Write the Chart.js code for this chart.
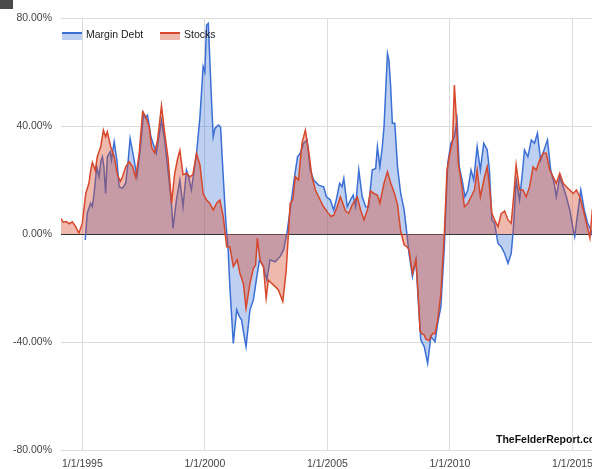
<!DOCTYPE html>
<html>
<head>
<meta charset="utf-8">
<script src="https://cdn.jsdelivr.net/npm/chart.js@4/dist/chart.umd.min.js"></script>
<style>
  html, body { margin: 0; padding: 0; background: #fff; overflow: hidden; }
  #wrap { position: absolute; left: 0; top: 0; width: 602px; height: 480px; }
  #corner { position: absolute; left: 0; top: 0; width: 13px; height: 9px; background: #4a4a4a; }
</style>
</head>
<body>
<div id="wrap"><canvas id="chart" width="602" height="480"></canvas></div>
<div id="corner"></div>
<script>
// year-over-year change (x = decimal year, y = percent)
const stocksDates = [1994.12, 1994.22, 1994.34, 1994.47, 1994.59, 1994.71, 1994.86, 1995.00, 1995.14, 1995.27,
  1995.35, 1995.41, 1995.53, 1995.61, 1995.75, 1995.86, 1995.95, 1996.02, 1996.16, 1996.30,
  1996.43, 1996.55, 1996.64, 1996.77, 1996.91, 1997.05, 1997.18, 1997.32, 1997.46, 1997.59,
  1997.73, 1997.83, 1997.95, 1998.07, 1998.23, 1998.36, 1998.50, 1998.64, 1998.77, 1998.89,
  1998.98, 1999.11, 1999.25, 1999.39, 1999.51, 1999.66, 1999.80, 1999.93, 2000.07, 2000.20,
  2000.34, 2000.48, 2000.61, 2000.75, 2000.89, 2001.02, 2001.16, 2001.32, 2001.43, 2001.57,
  2001.68, 2001.84, 2001.98, 2002.07, 2002.14, 2002.25, 2002.39, 2002.50, 2002.59, 2002.73,
  2002.87, 2003.00, 2003.18, 2003.32, 2003.41, 2003.48, 2003.59, 2003.69, 2003.82, 2003.96,
  2004.10, 2004.23, 2004.37, 2004.51, 2004.71, 2004.85, 2005.01, 2005.15, 2005.26, 2005.40,
  2005.53, 2005.74, 2005.87, 2006.02, 2006.22, 2006.35, 2006.49, 2006.63, 2006.76, 2006.90,
  2007.04, 2007.14, 2007.31, 2007.45, 2007.58, 2007.72, 2007.86, 2007.99, 2008.13, 2008.27,
  2008.33, 2008.47, 2008.61, 2008.70, 2008.78, 2008.87, 2008.95, 2009.02, 2009.15, 2009.29,
  2009.39, 2009.50, 2009.63, 2009.77, 2009.88, 2009.97, 2010.11, 2010.18, 2010.25, 2010.34,
  2010.45, 2010.59, 2010.73, 2010.86, 2011.00, 2011.11, 2011.24, 2011.41, 2011.52, 2011.61,
  2011.71, 2011.82, 2011.96, 2012.09, 2012.23, 2012.37, 2012.50, 2012.61, 2012.70, 2012.84,
  2012.98, 2013.11, 2013.25, 2013.39, 2013.52, 2013.66, 2013.80, 2013.93, 2014.07, 2014.21,
  2014.34, 2014.48, 2014.62, 2014.75, 2014.89, 2015.03, 2015.16, 2015.30, 2015.44, 2015.57,
  2015.71, 2015.81, 2015.90];
const stocksValues = [5.8, 4.4, 4.6, 3.8, 4.5, 3.0, 0.3, 4.0, 15.0, 18.8,
  24.0, 26.5, 23.5, 28.6, 32.3, 38.5, 36.0, 37.9, 32.3, 28.6,
  22.0, 19.5, 21.2, 24.9, 26.8, 25.0, 21.0, 29.9, 45.3, 43.5,
  39.7, 32.0, 30.0, 34.8, 47.5, 37.4, 28.0, 11.5, 22.5, 28.0,
  31.0, 22.0, 22.5, 21.2, 22.0, 29.9, 25.5, 15.0, 12.6, 11.4,
  8.9, 11.4, 12.6, 6.4, -4.7, -4.7, -12.1, -9.6, -14.6, -18.3,
  -27.5, -18.3, -12.7, -11.5, -1.6, -9.6, -12.1, -23.8, -17.0, -18.3,
  -19.5, -20.7, -25.0, -13.3, 0.3, 11.4, 12.6, 21.2, 20.0, 33.6,
  38.5, 31.1, 21.2, 16.3, 12.5, 10.0, 8.0, 6.5, 7.0, 10.1,
  13.8, 8.5, 7.7, 11.0, 13.8, 9.0, 5.2, 8.9, 16.0, 15.0,
  14.4, 11.4, 18.8, 23.1, 19.0, 15.5, 11.0, 1.0, -4.0, -5.0,
  -6.0, -14.6, -9.6, -22.0, -36.0, -37.0, -37.4, -39.0, -39.5, -36.8,
  -37.0, -31.9, -22.0, 0.0, 23.7, 28.6, 34.8, 55.2, 44.7, 26.2,
  20.0, 10.1, 11.4, 13.8, 16.3, 23.7, 13.8, 21.2, 24.9, 18.0,
  7.7, 5.2, 2.7, 7.5, 8.5, 5.2, 4.0, 15.0, 25.6, 16.3,
  16.3, 13.8, 17.5, 24.9, 23.7, 27.4, 29.9, 29.9, 23.7, 21.2,
  18.8, 22.5, 18.8, 17.5, 16.3, 15.0, 16.3, 13.8, 8.9, 4.0,
  -1.5, 8.9, 9.0];

const marginDates = [1995.12, 1995.20, 1995.34, 1995.41, 1995.48, 1995.59, 1995.68, 1995.76, 1995.82, 1995.88,
  1995.95, 1996.02, 1996.14, 1996.19, 1996.30, 1996.41, 1996.50, 1996.64, 1996.77, 1996.86,
  1996.95, 1997.09, 1997.23, 1997.36, 1997.50, 1997.58, 1997.66, 1997.80, 1997.88, 1998.02,
  1998.23, 1998.36, 1998.50, 1998.63, 1998.70, 1998.84, 1998.98, 1999.11, 1999.25, 1999.34,
  1999.45, 1999.66, 1999.80, 1999.93, 2000.00, 2000.07, 2000.14, 2000.27, 2000.34, 2000.41,
  2000.55, 2000.64, 2000.75, 2000.86, 2000.95, 2001.02, 2001.16, 2001.30, 2001.41, 2001.50,
  2001.57, 2001.68, 2001.84, 2001.98, 2002.12, 2002.23, 2002.39, 2002.53, 2002.66, 2002.87,
  2003.07, 2003.21, 2003.35, 2003.48, 2003.62, 2003.78, 2003.89, 2004.03, 2004.17, 2004.30,
  2004.44, 2004.64, 2004.85, 2004.96, 2005.12, 2005.26, 2005.37, 2005.50, 2005.60, 2005.67,
  2005.81, 2005.94, 2006.05, 2006.15, 2006.28, 2006.42, 2006.56, 2006.68, 2006.83, 2006.97,
  2007.04, 2007.14, 2007.24, 2007.31, 2007.38, 2007.45, 2007.51, 2007.58, 2007.65, 2007.75,
  2007.86, 2007.99, 2008.13, 2008.24, 2008.33, 2008.47, 2008.61, 2008.71, 2008.81, 2008.95,
  2009.09, 2009.22, 2009.39, 2009.50, 2009.63, 2009.77, 2009.91, 2010.04, 2010.18, 2010.29,
  2010.38, 2010.52, 2010.61, 2010.73, 2010.86, 2010.97, 2011.11, 2011.24, 2011.38, 2011.52,
  2011.61, 2011.71, 2011.82, 2011.96, 2012.09, 2012.23, 2012.37, 2012.50, 2012.57, 2012.61,
  2012.70, 2012.84, 2012.98, 2013.04, 2013.18, 2013.32, 2013.45, 2013.57, 2013.70, 2013.84,
  2013.98, 2014.11, 2014.25, 2014.34, 2014.48, 2014.62, 2014.75, 2014.89, 2015.03, 2015.09,
  2015.23, 2015.34, 2015.48, 2015.62, 2015.75, 2015.86];
const marginValues = [-2.2, 7.7, 11.4, 10.1, 15.0, 24.9, 21.2, 27.0, 28.6, 25.0,
  15.0, 28.6, 30.5, 27.4, 34.2, 27.4, 17.5, 16.9, 18.8, 26.0,
  35.4, 28.6, 21.2, 31.1, 44.7, 43.0, 44.0, 36.0, 33.7, 29.9,
  42.2, 34.8, 23.1, 12.0, 2.1, 12.6, 20.0, 10.1, 23.7, 21.0,
  16.3, 29.9, 43.4, 62.0, 60.0, 77.4, 78.0, 49.6, 36.0, 39.1,
  40.4, 39.7, 21.2, 4.0, -5.9, -19.5, -40.5, -28.1, -30.6, -31.9,
  -36.0, -41.7, -28.1, -24.4, -15.8, -9.6, -12.1, -17.0, -9.6, -10.3,
  -8.4, -5.9, 0.3, 8.9, 18.8, 28.6, 29.9, 33.6, 34.8, 23.7,
  20.0, 18.1, 17.5, 13.8, 12.6, 8.9, 13.0, 18.8, 17.5, 20.6,
  10.1, 12.6, 14.4, 10.1, 23.7, 13.8, 10.1, 10.0, 23.7, 24.3,
  32.3, 24.9, 32.3, 39.7, 53.3, 66.9, 64.4, 54.6, 41.0, 41.0,
  24.9, 15.0, 8.9, 0.3, -7.2, -15.8, -9.6, -25.0, -39.3, -41.7,
  -47.9, -38.0, -39.9, -33.1, -26.9, -5.0, 26.2, 33.6, 36.0, 42.2,
  24.9, 18.8, 13.8, 16.3, 23.7, 20.0, 32.3, 23.7, 33.6, 31.1,
  23.7, 5.2, 4.0, -3.5, -4.7, -7.2, -10.9, -7.2, 0.0, 5.2,
  20.0, 12.6, 24.9, 31.1, 28.6, 34.8, 33.6, 37.3, 27.4, 31.1,
  34.8, 23.7, 18.8, 13.8, 21.2, 17.5, 13.8, 8.9, 1.5, -1.0,
  8.9, 16.3, 8.9, 4.0, 1.5, -2.0];

const yearTicks = [1995, 2000, 2005, 2010, 2015];
const valueTicks = [-80, -40, 0, 40, 80];

const BLUE = '#3b6fd4';
const RED = '#d6472b';

const toPoints = (xs, ys) => xs.map((x, i) => ({ x: x, y: ys[i] }));

// legend inside the plot and the watermark, drawn by hand
const overlayPlugin = {
    id: 'overlay',
    afterDraw(chart) {
        const ctx = chart.ctx;
        ctx.save();
        ctx.font = '10.5px Arial, "Liberation Sans", sans-serif';
        ctx.textBaseline = 'middle';
        let x = 62;
        chart.data.datasets.forEach(ds => {
            ctx.fillStyle = ds.backgroundColor;
            ctx.fillRect(x, 33, 20, 7);
            ctx.strokeStyle = ds.borderColor;
            ctx.lineWidth = 2;
            ctx.beginPath();
            ctx.moveTo(x, 33);
            ctx.lineTo(x + 20, 33);
            ctx.stroke();
            ctx.fillStyle = '#222';
            ctx.fillText(ds.label, x + 24, 35);
            x += 98;
        });
        ctx.font = 'bold 10.5px Arial, "Liberation Sans", sans-serif';
        ctx.textBaseline = 'alphabetic';
        ctx.fillStyle = '#111';
        ctx.fillText('TheFelderReport.com', 496, 443);
        ctx.restore();
    }
};

new Chart(document.getElementById('chart'), {
    type: 'line',
    data: {
        datasets: [{
            label: 'Margin Debt',
            data: toPoints(marginDates, marginValues),
            borderColor: BLUE,
            backgroundColor: 'rgba(59,111,212,0.33)',
            borderWidth: 1.5,
            fill: 'origin',
            pointRadius: 0,
            tension: 0,
            order: 1
        }, {
            label: 'Stocks',
            data: toPoints(stocksDates, stocksValues),
            borderColor: RED,
            backgroundColor: 'rgba(214,71,43,0.38)',
            borderWidth: 1.5,
            fill: 'origin',
            pointRadius: 0,
            tension: 0,
            order: 0
        }]
    },
    options: {
        responsive: false,
        animation: false,
        devicePixelRatio: 1,
        layout: { padding: { top: 18, right: 5, bottom: 0, left: 0 } },
        plugins: {
            legend: { display: false },
            tooltip: { enabled: false }
        },
        scales: {
            x: {
                type: 'linear',
                min: 1994.13,
                max: 2016,
                afterBuildTicks: s => { s.ticks = yearTicks.map(v => ({ value: v })); },
                afterFit: s => { s.height = 30; },
                grid: { color: '#dcdcdc', drawTicks: false },
                border: { display: false },
                ticks: {
                    callback: v => '1/1/' + v,
                    color: '#444',
                    font: { family: 'Arial, "Liberation Sans", sans-serif', size: 10.5 },
                    padding: 8,
                    maxRotation: 0,
                    autoSkip: false
                }
            },
            y: {
                min: -80,
                max: 80,
                afterBuildTicks: s => { s.ticks = valueTicks.map(v => ({ value: v })); },
                afterFit: s => { s.width = 61; },
                grid: {
                    color: c => (c.tick && c.tick.value === 0) ? '#333' : '#dcdcdc',
                    drawTicks: false
                },
                border: { display: false },
                ticks: {
                    callback: v => v.toFixed(2) + '%',
                    color: '#444',
                    font: { family: 'Arial, "Liberation Sans", sans-serif', size: 10.5 },
                    padding: 9
                }
            }
        }
    },
    plugins: [overlayPlugin]
});
</script>
</body>
</html>
